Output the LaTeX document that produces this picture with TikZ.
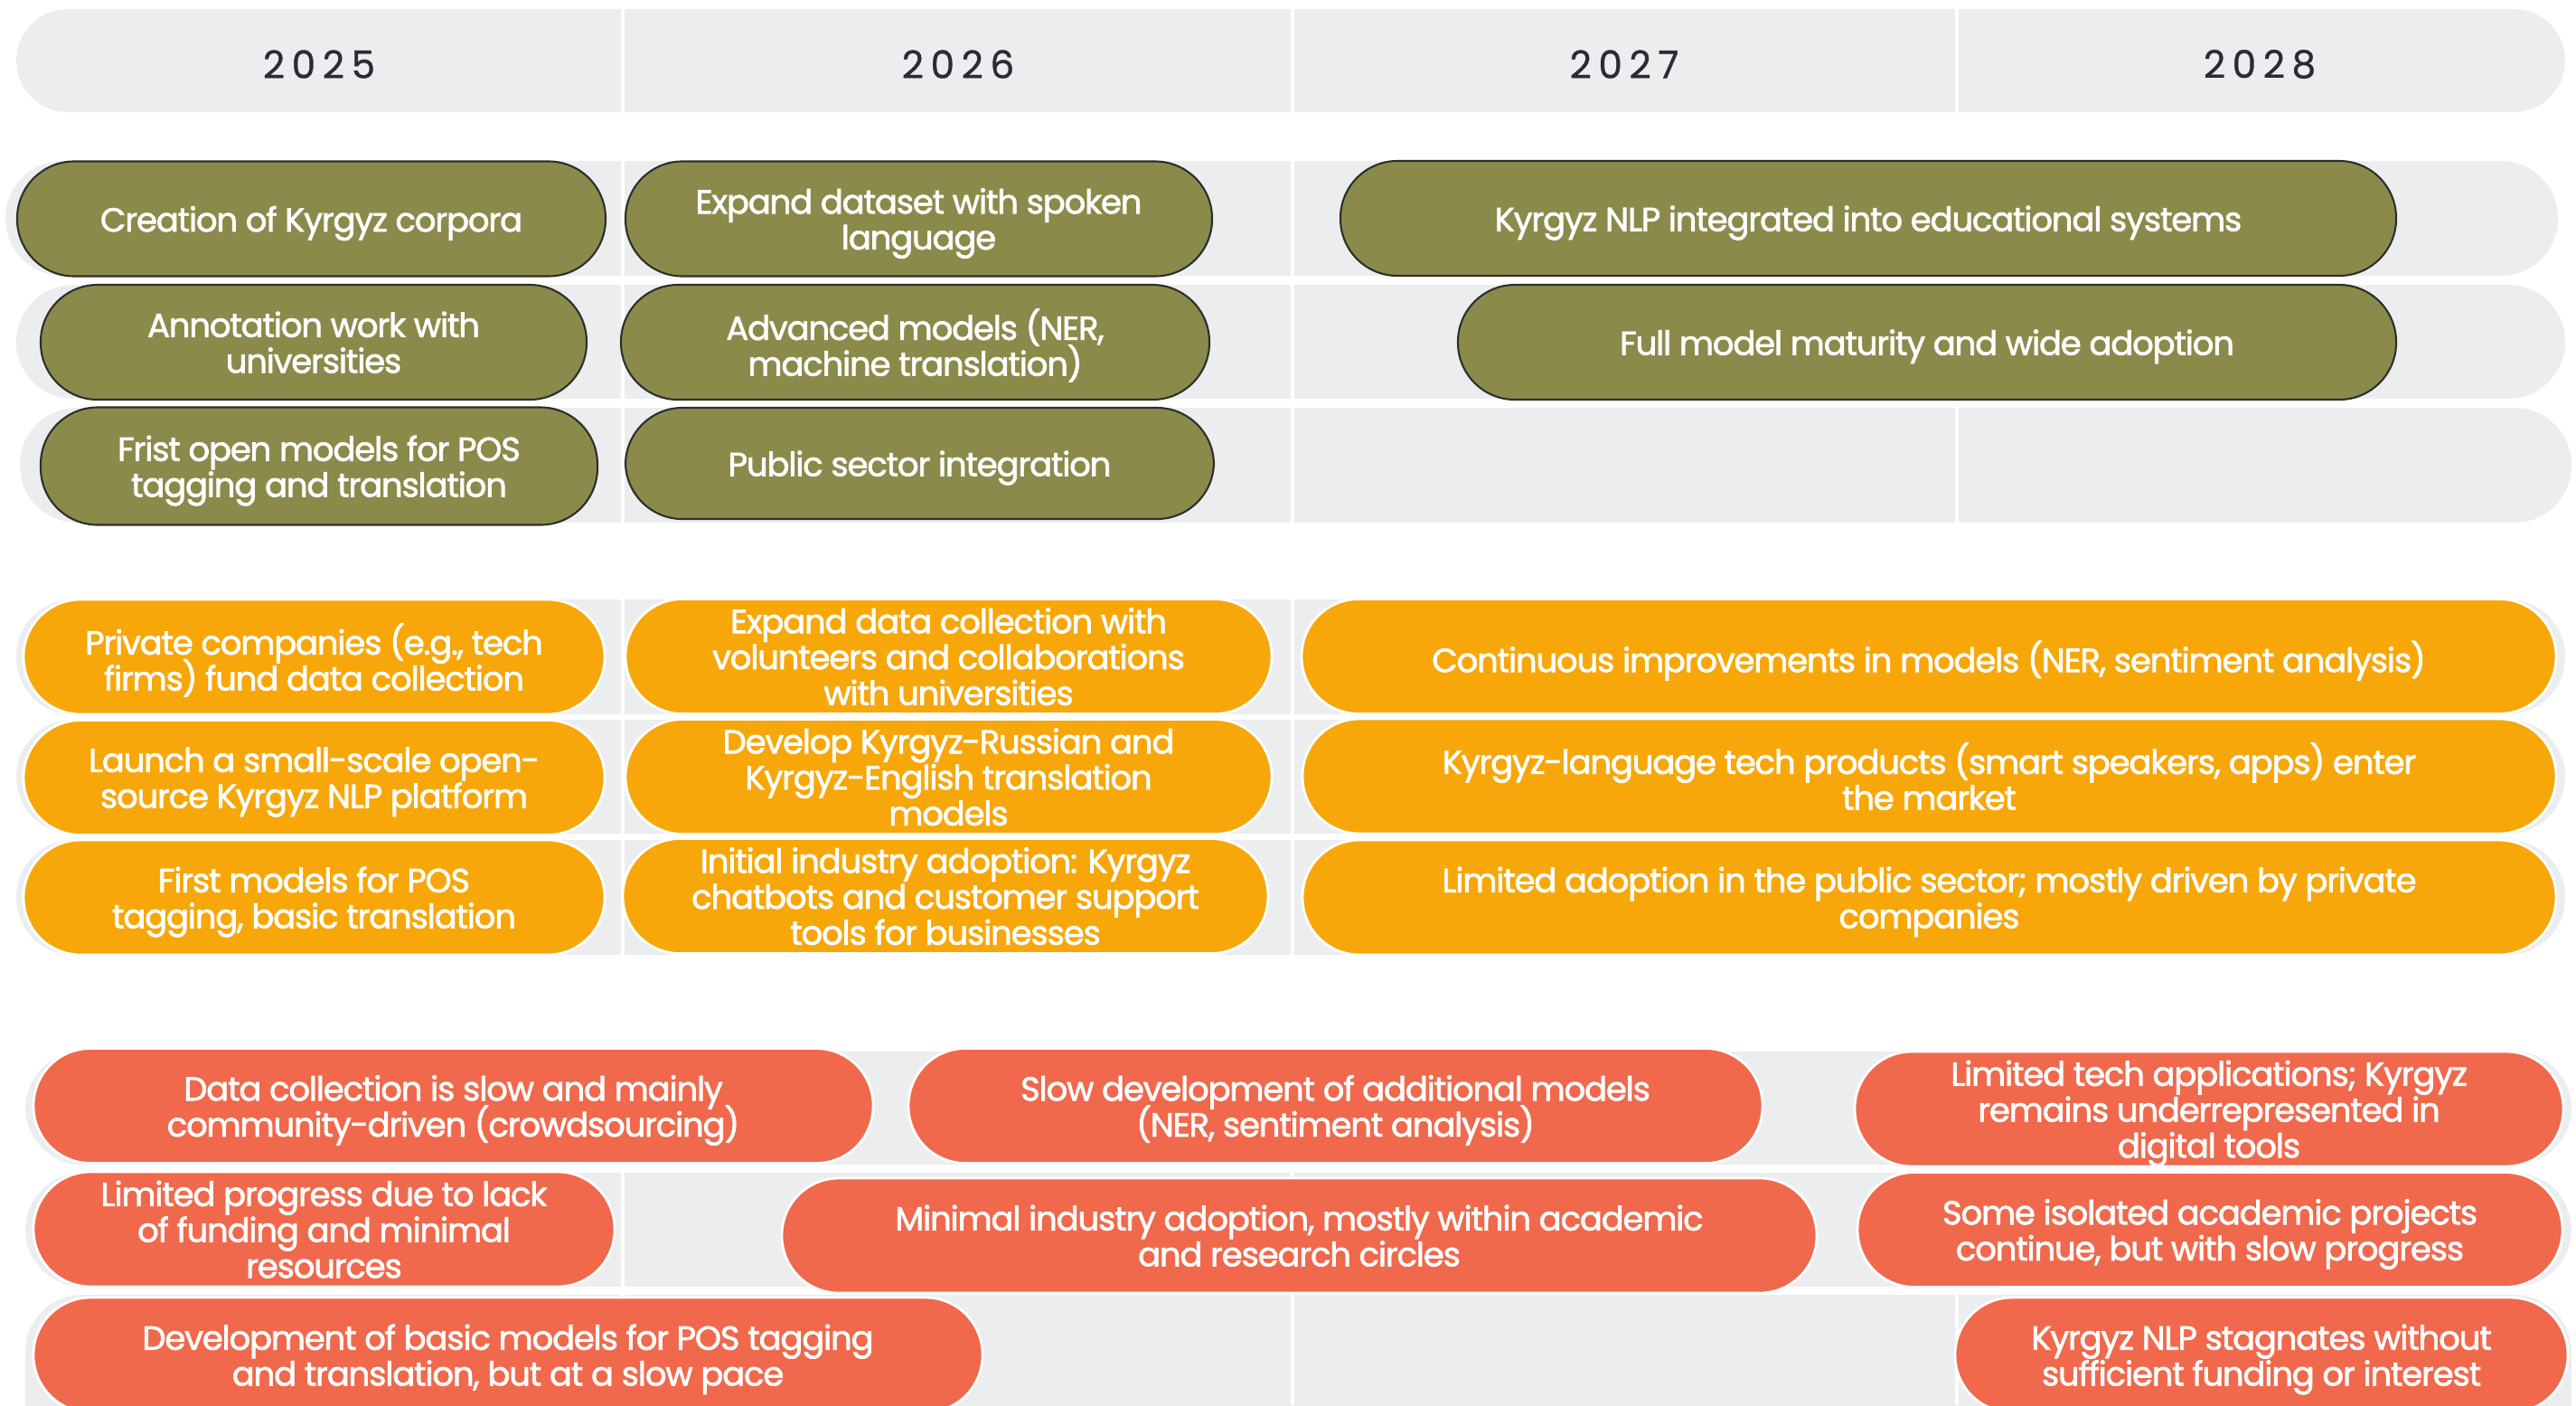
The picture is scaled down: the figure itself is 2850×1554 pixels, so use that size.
\documentclass[tikz,border=0pt]{standalone}
\usepackage{fontspec}
\setmainfont{Poppins}
\newfontfamily\boxfam{Poppins}[LetterSpace=-3,FakeBold=1.8]
\newfontfamily\yearfam{Poppins}[LetterSpace=18,FakeBold=0.8]
\usepackage{xcolor}
\definecolor{bandgray}{HTML}{ECEDEF}
\definecolor{kgreen}{HTML}{8A8B4B}
\definecolor{greenline}{HTML}{2E2F2A}
\definecolor{korange}{HTML}{F7A70A}
\definecolor{kred}{HTML}{F0694C}
\definecolor{yeartext}{HTML}{2B2B36}
\newcommand{\boxfont}{\boxfam\fontsize{10.5}{11.3}\selectfont\lineskiplimit=-20pt}
\newcommand{\yearfont}{\yearfam\fontsize{12}{14}\selectfont}

\begin{document}
\begin{tikzpicture}[x=0.1mm,y=-0.1mm,
		band/.style={fill=bandgray, rounded corners=6.3mm},
		divider/.style={white, line width=0.4mm},
		year/.style={font=\yearfont, text=yeartext},
		box/.style={rounded corners=6.3mm, text=white, align=center, inner sep=0pt, font=\boxfont, text depth=0pt, minimum height=12.7mm},
		greenbox/.style={box, fill=kgreen, draw=greenline, line width=0.6pt},
		orangebox/.style={box, fill=korange, draw=white, line width=0.8pt},
		redbox/.style={box, fill=kred, draw=white, line width=0.8pt}]
			\useasboundingbox (0,0) rectangle (2850,1554);
			\clip (0,0) rectangle (2850,1554);
			
			% header and row bands
			\fill[band, rounded corners=5.7mm] (18,10) rectangle (2838,124);
			
			\fill[band] (6,178) rectangle (2830,305);
			\fill[band] (18,315) rectangle (2838,441);
			\fill[band] (22,451) rectangle (2845,578);
			
			\fill[band] (18,663) rectangle (2838,790);
			\fill[band] (18,796) rectangle (2838,922);
			\fill[band] (18,929) rectangle (2838,1056);
			
			\fill[band] (28,1163) rectangle (2845,1288);
			\fill[band] (28,1297) rectangle (2845,1423);
			\fill[band] (28,1432) rectangle (2845,1620);
			
			\draw[divider] (689,0) -- (689,1554);
			\draw[divider] (1430,0) -- (1430,1554);
			\draw[divider] (2165,0) -- (2165,1554);
			
			\node[year] (y25) at (353,71) {2025};
			\node[year] (y26) at (1060,71) {2026};
			\node[year] (y27) at (1797,71) {2027};
			\node[year] (y28) at (2500,71) {2028};
			
			% first scenario
			\node[greenbox, minimum width=65.1mm] (g1) at (344.5,242) {Creation of Kyrgyz corpora};
			\node[greenbox, minimum width=64.9mm] (g2) at (1016.5,242) {Expand dataset with spoken\\language};
			\node[greenbox, minimum width=116.8mm] (g3) at (2067,241.5) {Kyrgyz NLP integrated into educational systems};
			\node[greenbox, minimum width=60.4mm] (g4) at (347,378.5) {Annotation work with\\universities};
			\node[greenbox, minimum width=65.1mm] (g5) at (1012.5,378.5) {Advanced models (NER,\\machine translation)};
			\node[greenbox, minimum width=103.8mm] (g6) at (2132,378.5) {Full model maturity and wide adoption};
			\node[greenbox, minimum width=61.6mm, minimum height=13mm] (g7) at (353,515.5) {Frist open models for POS\\tagging and translation};
			\node[greenbox, minimum width=65.1mm, minimum height=12.3mm] (g8) at (1017.5,512.5) {Public sector integration};
			
			% second scenario
			\node[orangebox, minimum width=64.3mm] (o1) at (347.5,726.5) {Private companies (e.g., tech\\firms) fund data collection};
			\node[orangebox, minimum width=71.5mm] (o2) at (1049.5,726) {Expand data collection with\\volunteers and collaborations\\with universities};
			\node[orangebox, minimum width=138.8mm] (o3) at (2134,726) {Continuous improvements in models (NER, sentiment analysis)};
			\node[orangebox, minimum width=64.3mm] (o4) at (347.5,860) {Launch a small-scale open-\\source Kyrgyz NLP platform};
			\node[orangebox, minimum width=71.5mm] (o5) at (1049.5,859) {Develop Kyrgyz-Russian and\\Kyrgyz-English translation\\models};
			\node[orangebox, minimum width=138.7mm] (o6) at (2134.5,858.5) {Kyrgyz-language tech products (smart speakers, apps) enter\\the market};
			\node[orangebox, minimum width=64.3mm] (o7) at (347.5,992.5) {First models for POS\\tagging, basic translation};
			\node[orangebox, minimum width=71.4mm] (o8) at (1046,991) {Initial industry adoption: Kyrgyz\\chatbots and customer support\\tools for businesses};
			\node[orangebox, minimum width=138.7mm] (o9) at (2134.5,992.5) {Limited adoption in the public sector; mostly driven by private\\companies};
			
			% third scenario
			\node[redbox, minimum width=92.9mm] (r1) at (501.5,1223) {Data collection is slow and mainly\\community-driven (crowdsourcing)};
			\node[redbox, minimum width=94.5mm] (r2) at (1477.5,1223) {Slow development of additional models\\(NER, sentiment analysis)};
			\node[redbox, minimum width=78.4mm] (r3) at (2444,1226.5) {Limited tech applications; Kyrgyz\\remains underrepresented in\\digital tools};
			\node[redbox, minimum width=64.3mm] (r4) at (358.5,1359.5) {Limited progress due to lack\\of funding and minimal\\resources};
			\node[redbox, minimum width=114.5mm] (r5) at (1437.5,1366.5) {Minimal industry adoption, mostly within academic\\and research circles};
			\node[redbox, minimum width=78mm] (r6) at (2445,1360) {Some isolated academic projects\\continue, but with slow progress};
			\node[redbox, minimum width=105mm] (r7) at (562,1498.5) {Development of basic models for POS tagging\\and translation, but at a slow pace};
			\node[redbox, minimum width=67.8mm] (r8) at (2502,1498.5) {Kyrgyz NLP stagnates without\\sufficient funding or interest};
		\end{tikzpicture}
\end{document}
